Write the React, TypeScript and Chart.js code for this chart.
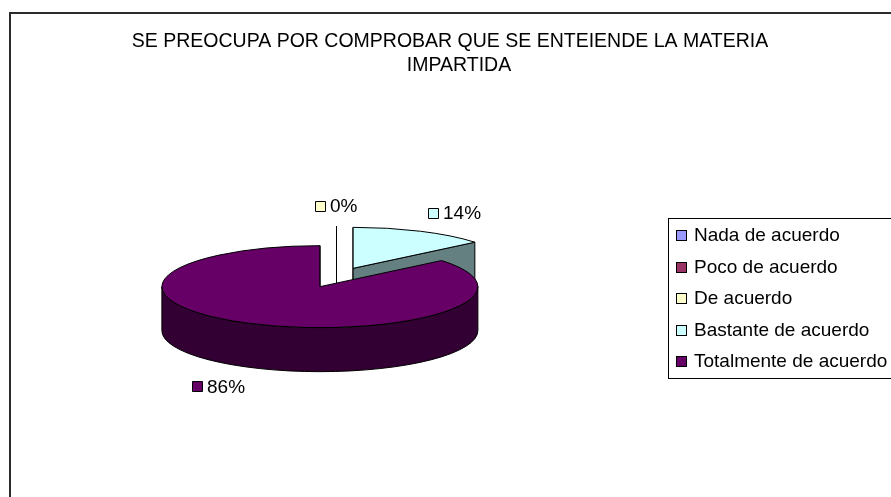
import React, { useEffect, useRef } from "react";
import { Chart, registerables } from "chart.js";

Chart.register(...registerables);

// ---- data ----
const TITLE_LINES = [
  "SE PREOCUPA POR COMPROBAR QUE SE ENTEIENDE LA MATERIA",
  "IMPARTIDA",
];
const CATEGORIES = [
  "Nada de acuerdo",
  "Poco de acuerdo",
  "De acuerdo",
  "Bastante de acuerdo",
  "Totalmente de acuerdo",
];
const VALUES = [0, 0, 0, 14, 86];
const TOP_COLORS = ["#9999FF", "#993366", "#FFFFCC", "#CCFFFF", "#660066"];
const SIDE_COLORS = ["#4D4D80", "#4D1A33", "#808066", "#658080", "#330033"];

// ---- style ----
const FONT = '"Liberation Sans", Arial, sans-serif';
const TILT = 0.2595; // vertical squash of the pie
const DEPTH = 44; // thickness of the pie in px
const EXPLODE = 0.247; // explosion, fraction of radius
const W = 891;
const H = 497;
const TITLE_X = [450, 459];

const pct = (v: number, total: number) => Math.round((v / total) * 100) + "%";

const pie3d = {
  id: "pie3d",
  beforeDatasetsDraw(chart: any) {
    const ctx: CanvasRenderingContext2D = chart.ctx;
    const meta = chart.getDatasetMeta(0);
    const data: number[] = chart.data.datasets[0].data;
    const total = data.reduce((a, b) => a + b, 0);
    const slices = meta.data.map((arc: any, i: number) => {
      const p = arc.getProps(["x", "y", "startAngle", "endAngle", "outerRadius"], true);
      const R = p.outerRadius;
      const r = R * TILT;
      const m = (p.startAngle + p.endAngle) / 2;
      const ax = p.x + EXPLODE * R * Math.cos(m);
      const ay = p.y + EXPLODE * r * Math.sin(m);
      return { i, s: p.startAngle, e: p.endAngle, m, R, r, ax, ay };
    });
    const order = [...slices].sort((a, b) => a.ay - b.ay);
    ctx.save();
    ctx.lineWidth = 1;
    ctx.strokeStyle = "#000";
    ctx.lineJoin = "round";
    for (const sl of order) {
      const { s, e, R, r, ax, ay, i } = sl;
      const P = (a: number) => [ax + R * Math.cos(a), ay + r * Math.sin(a)];
      const face = (a: number) => {
        const [px, py] = P(a);
        ctx.beginPath();
        ctx.moveTo(ax, ay);
        ctx.lineTo(px, py);
        ctx.lineTo(px, py + DEPTH);
        ctx.lineTo(ax, ay + DEPTH);
        ctx.closePath();
        ctx.fillStyle = SIDE_COLORS[i];
        ctx.fill();
        ctx.stroke();
      };
      if (Math.cos(s) <= 1e-6) face(s);
      if (Math.cos(e) >= -1e-6) face(e);
      for (let n = -1; n <= 2; n++) {
        const a0 = Math.max(s, 2 * Math.PI * n);
        const a1 = Math.min(e, 2 * Math.PI * n + Math.PI);
        if (a1 > a0) {
          ctx.beginPath();
          ctx.ellipse(ax, ay, R, r, 0, a0, a1, false);
          ctx.ellipse(ax, ay + DEPTH, R, r, 0, a1, a0, true);
          ctx.closePath();
          ctx.fillStyle = SIDE_COLORS[i];
          ctx.fill();
          ctx.stroke();
        }
      }
      ctx.beginPath();
      ctx.moveTo(ax, ay);
      if (e > s) ctx.ellipse(ax, ay, R, r, 0, s, e, false);
      else ctx.lineTo(P(s)[0], P(s)[1]);
      ctx.closePath();
      if (e > s) {
        ctx.fillStyle = TOP_COLORS[i];
        ctx.fill();
      }
      ctx.stroke();
    }

    // data labels
    ctx.font = `19px ${FONT}`;
    ctx.textBaseline = "middle";
    ctx.textAlign = "left";
    const placed: string[] = [];
    const labels = slices.map((sl: any) => {
      const lx = sl.ax + 1.5 * sl.R * Math.cos(sl.m);
      const ly = sl.ay + 1.5 * sl.r * Math.sin(sl.m) + (Math.sin(sl.m) > 0.05 ? DEPTH : 0);
      return { lx, ly, i: sl.i, key: Math.round(lx) + "," + Math.round(ly) };
    });
    for (let k = labels.length - 1; k >= 0; k--) {
      const L = labels[k];
      if (placed.includes(L.key)) continue;
      placed.push(L.key);
      const txt = pct(data[L.i], total);
      const tw = ctx.measureText(txt).width;
      const gw = 10 + 5 + tw;
      const x0 = Math.round(L.lx - gw / 2);
      const y0 = Math.round(L.ly - 5);
      ctx.fillStyle = TOP_COLORS[L.i];
      ctx.fillRect(x0 + 0.5, y0 + 0.5, 10, 10);
      ctx.strokeRect(x0 + 0.5, y0 + 0.5, 10, 10);
      ctx.fillStyle = "#000";
      ctx.fillText(txt, x0 + 15, L.ly + 1);
    }
    ctx.restore();
    return false;
  },
  afterDraw(chart: any) {
    const ctx: CanvasRenderingContext2D = chart.ctx;
    ctx.save();
    // frame
    ctx.strokeStyle = "#2b2b2b";
    ctx.lineWidth = 2;
    ctx.strokeRect(10, 13, 1000, 1000);
    // title
    ctx.fillStyle = "#000";
    ctx.font = `19.5px ${FONT}`;
    ctx.textAlign = "center";
    ctx.textBaseline = "alphabetic";
    TITLE_LINES.forEach((t, k) => ctx.fillText(t, TITLE_X[k], 47 + k * 24));
    // legend
    ctx.font = `19px ${FONT}`;
    ctx.lineWidth = 1;
    ctx.strokeStyle = "#000";
    ctx.strokeRect(668.5, 218.5, 300, 160);
    ctx.textAlign = "left";
    ctx.textBaseline = "middle";
    chart.data.labels.forEach((lab: string, k: number) => {
      const cy = 235 + k * 31.5;
      const sy = Math.round(cy - 5);
      ctx.fillStyle = TOP_COLORS[k];
      ctx.fillRect(676.5, sy + 0.5, 10, 10);
      ctx.strokeRect(676.5, sy + 0.5, 10, 10);
      ctx.fillStyle = "#000";
      ctx.fillText(lab, 694, cy + 1);
    });
    ctx.restore();
  },
};

export default function App() {
  const ref = useRef<HTMLCanvasElement | null>(null);
  useEffect(() => {
    document.body.style.margin = "0";
    if (!ref.current) return;
    const chart = new Chart(ref.current, {
      type: "pie",
      data: {
        labels: CATEGORIES,
        datasets: [
          {
            data: VALUES,
            backgroundColor: TOP_COLORS,
            borderColor: "#000",
            borderWidth: 1,
            radius: 158,
          } as any,
        ],
      },
      options: {
        responsive: false,
        animation: false,
        radius: 158,
        layout: { padding: { left: 150, right: 368, top: 100, bottom: 42 } },
        plugins: {
          legend: { display: false },
          title: { display: false },
          tooltip: { enabled: false },
        },
      } as any,
      plugins: [pie3d],
    });
    return () => chart.destroy();
  }, []);
  return (
    <div style={{ width: W, height: H, background: "#fff" }}>
      <canvas ref={ref} width={W} height={H} style={{ display: "block" }} />
    </div>
  );
}
